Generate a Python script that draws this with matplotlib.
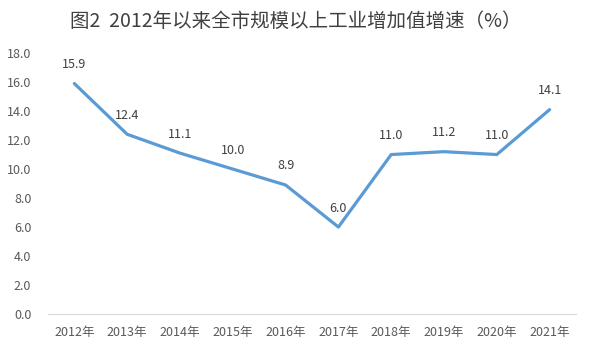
import matplotlib.pyplot as plt

plt.rcParams['font.family'] = ['Noto Sans CJK SC', 'DejaVu Sans']

years = ['2012年', '2013年', '2014年', '2015年', '2016年',
         '2017年', '2018年', '2019年', '2020年', '2021年']
growth = [15.9, 12.4, 11.1, 10.0, 8.9, 6.0, 11.0, 11.2, 11.0, 14.1]
yticks = [0, 2, 4, 6, 8, 10, 12, 14, 16, 18]

fig = plt.figure(figsize=(5.92, 3.54), dpi=100)
ax = fig.add_axes([0.081, 0.113, 0.892, 0.737])

x = range(len(years))
ax.plot(x, growth, color='#5B9BD5', linewidth=2.3, solid_capstyle='round')
for xi, v in zip(x, growth):
    ax.annotate(f'{v:.1f}', (xi, v), xytext=(0, 9), textcoords='offset points',
                ha='center', va='bottom', fontsize=9, color='#404040')

ax.set_xlim(-0.5, len(years) - 0.5)
ax.set_ylim(0, 18)
ax.set_yticks(yticks)
ax.set_yticklabels([f'{t:.1f}' for t in yticks])
ax.set_xticks(list(x))
ax.set_xticklabels(years)
ax.tick_params(axis='both', length=0, labelsize=9, labelcolor='#595959')
ax.tick_params(axis='y', pad=12)
ax.tick_params(axis='x', pad=9)

for side in ['top', 'right', 'left']:
    ax.spines[side].set_visible(False)
ax.spines['bottom'].set_color('#D9D9D9')

fig.text(0.5, 0.94, '图2  2012年以来全市规模以上工业增加值增速（%）',
         ha='center', va='center', fontsize=14, color='#404040')

fig.savefig('out.png', dpi=100)
